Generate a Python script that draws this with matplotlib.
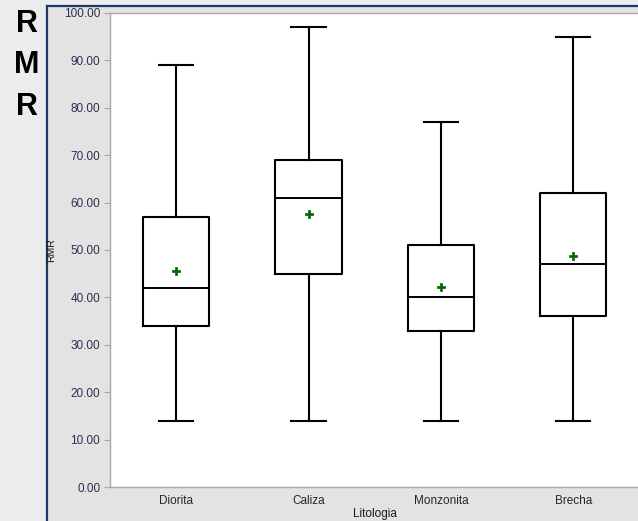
import matplotlib.pyplot as plt
from matplotlib.patches import Rectangle
from matplotlib.lines import Line2D

# box plot summary per lithology
litologia = ["Diorita", "Caliza", "Monzonita", "Brecha"]
whisker_low = [14, 14, 14, 14]
q1 = [34, 45, 33, 36]
mediana = [42, 61, 40, 47]
q3 = [57, 69, 51, 62]
whisker_high = [89, 97, 77, 95]
media = [45.6, 57.5, 42.2, 48.7]

yticks = [0, 10, 20, 30, 40, 50, 60, 70, 80, 90, 100]

W, H = 638, 521
fig = plt.figure(figsize=(W / 100, H / 100), dpi=100)
fig.patch.set_facecolor("#ebecee")

# grey panel with navy border on the left and top
panel = Rectangle((47 / W, 0), 1, 1 - 6 / H, transform=fig.transFigure,
                  facecolor="#e3e3e3", edgecolor="none", zorder=-5)
fig.add_artist(panel)
fig.add_artist(Line2D([47 / W, 47 / W], [0, 1 - 6 / H], transform=fig.transFigure,
                      color="#1f3864", lw=1.6, zorder=-4))
fig.add_artist(Line2D([47 / W, 1], [1 - 6 / H, 1 - 6 / H], transform=fig.transFigure,
                      color="#1f3864", lw=1.6, zorder=-4))

for txt, yy in [("R", 24), ("M", 65), ("R", 107)]:
    fig.text(27 / W, 1 - yy / H, txt, fontsize=22, fontweight="bold",
             family="Liberation Sans", ha="center", va="center")

ax = fig.add_axes([110 / W, 34 / H, 532 / W, 474 / H])
ax.set_zorder(2)
ax.set_facecolor("white")

stats = []
for i, name in enumerate(litologia):
    stats.append({
        "label": name,
        "whislo": whisker_low[i],
        "q1": q1[i],
        "med": mediana[i],
        "q3": q3[i],
        "whishi": whisker_high[i],
        "mean": media[i],
        "fliers": [],
    })

line = dict(color="black", linewidth=1.5)
ax.bxp(stats, positions=range(1, 5), widths=0.5, showmeans=True,
       boxprops=line, whiskerprops=line, capprops=line,
       medianprops=dict(color="black", linewidth=1.4),
       meanprops=dict(marker="P", markersize=6, markerfacecolor="#006400",
                      markeredgecolor="#006400", markeredgewidth=0.5),
       capwidths=0.26, manage_ticks=False)

ax.set_xlim(0.5, 4.52)
ax.set_ylim(0, 100)
ax.set_yticks(yticks)
ax.set_yticklabels([f"{v:.2f}" for v in yticks])
ax.set_xticks(range(1, 5))
ax.set_xticklabels(litologia)

for s in ["left", "bottom", "top"]:
    ax.spines[s].set_color("#a8a8a8")
    ax.spines[s].set_linewidth(1.0)
ax.spines["right"].set_visible(False)

for lab in ax.get_yticklabels() + ax.get_xticklabels():
    lab.set_family("Liberation Sans")

ax.tick_params(axis="y", length=4, color="#a8a8a8", labelsize=8.5,
               labelcolor="#2e2e50", pad=3)
ax.tick_params(axis="x", length=0, labelsize=8.5, labelcolor="#2e2030", pad=6)

ax.set_ylabel("RMR", fontsize=7.5, color="#1a1a1a", family="Liberation Sans")
ax.set_xlabel("Litologia", fontsize=8.5, color="#1a1a1a", family="Liberation Sans")
ax.xaxis.set_label_coords((375 - 110) / 532, -21 / 474)
ax.yaxis.set_label_coords((56 - 110) / 532, 0.5)

fig.savefig("out.png", dpi=100, facecolor=fig.get_facecolor())
